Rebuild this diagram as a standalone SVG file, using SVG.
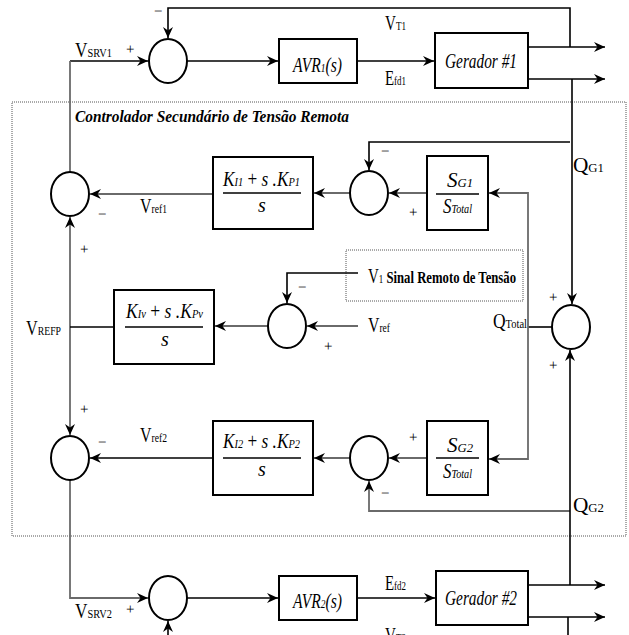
<svg xmlns="http://www.w3.org/2000/svg" width="629" height="635" viewBox="0 0 629 635">
<defs>
<marker id="ab" markerWidth="12" markerHeight="10" refX="11" refY="5" orient="auto" markerUnits="userSpaceOnUse"><path d="M0,0 L11,5 L0,10 L3.5,5 z" fill="#000"/></marker>
<marker id="ag" markerWidth="12" markerHeight="10" refX="11" refY="5" orient="auto" markerUnits="userSpaceOnUse"><path d="M0,0 L11,5 L0,10 L3.5,5 z" fill="#000"/></marker>
</defs>
<style>
.sum{fill:#fff;stroke:#000;stroke-width:2}
.box{fill:#fff;stroke:#000;stroke-width:2}
.k{fill:none;stroke:#000;stroke-width:1.6}
.g{fill:none;stroke:#6a6a6a;stroke-width:1.8}
.dot{fill:none;stroke:#555;stroke-width:1;stroke-dasharray:1,1}
text{font-family:"Liberation Serif","Times New Roman",serif;fill:#000}
.lb{font-size:20px}
.sb{font-size:12px}
.it{font-style:italic}
.sg{font-size:15px;fill:#000;text-rendering:geometricPrecision}
.fr{stroke:#000;stroke-width:1.4}
</style>
<rect class="dot" x="12" y="102" width="614" height="434"/>
<rect class="dot" x="346" y="250" width="177" height="51"/>
<g id="connectors">
<path class="k" d="M70,61 H148" marker-end="url(#ab)"/>
<path class="k" d="M187,61 H278" marker-end="url(#ab)"/>
<path class="k" d="M357,61 H434" marker-end="url(#ab)"/>
<path class="k" d="M528,47 H605" marker-end="url(#ab)"/>
<path class="k" d="M528,79 H605" marker-end="url(#ab)"/>
<path class="k" d="M570,47 V8 H168 V38" marker-end="url(#ab)"/>
<path class="k" d="M572,79 V304" marker-end="url(#ab)"/>
<path class="k" d="M570,142 H369 V170" marker-end="url(#ab)"/>
<path class="g" d="M70,61 V172"/>
<path class="g" d="M213,194 H90" marker-end="url(#ag)"/>
<path class="g" d="M350,193 H314" marker-end="url(#ag)"/>
<path class="g" d="M427,193 H389" marker-end="url(#ag)"/>
<path class="k" d="M552,327 H528"/>
<path class="g" d="M528,327 V193 H489" marker-end="url(#ag)"/>
<path class="g" d="M528,327 V459 H489" marker-end="url(#ag)"/>
<path class="g" d="M70,327 V217" marker-end="url(#ag)"/>
<path class="g" d="M70,327 V435" marker-end="url(#ag)"/>
<path class="k" d="M114,327 H70"/>
<path class="g" d="M268,326 H215" marker-end="url(#ag)"/>
<path class="g" d="M358,326 H307" marker-end="url(#ag)"/>
<path class="k" d="M358,273 H287 V303" marker-end="url(#ab)"/>
<path class="g" d="M427,458 H389" marker-end="url(#ag)"/>
<path class="g" d="M350,458 H314" marker-end="url(#ag)"/>
<path class="k" d="M213,458 H90" marker-end="url(#ab)"/>
<path class="g" d="M570,511 H369 V481" marker-end="url(#ag)"/>
<path class="k" d="M570,585 V350" marker-end="url(#ab)"/>
<path class="g" d="M70,480 V598 H148" marker-end="url(#ag)"/>
<path class="k" d="M187,598 H278" marker-end="url(#ab)"/>
<path class="k" d="M357,598 H435" marker-end="url(#ab)"/>
<path class="k" d="M528,585 H605" marker-end="url(#ab)"/>
<path class="k" d="M528,617 H605" marker-end="url(#ab)"/>
<path class="k" d="M568,617 V640"/>
<path class="k" d="M168,640 V621" marker-end="url(#ab)"/>
</g>
<g id="sum1"><ellipse class="sum" cx="168" cy="61" rx="19" ry="22"/></g>
<g id="avr1"><rect class="box" x="279" y="39" width="78" height="44"/>
<text class="lb it" x="293" y="72" textLength="49" lengthAdjust="spacingAndGlyphs">AVR<tspan class="sb">1</tspan>(s)</text></g>
<g id="gen1"><rect class="box" x="435" y="33" width="93" height="55"/>
<text class="lb it" x="445" y="68" textLength="72" lengthAdjust="spacingAndGlyphs">Gerador #1</text></g>
<g id="sum2"><ellipse class="sum" cx="70" cy="194" rx="19" ry="22"/></g>
<g id="ki1"><rect class="box" x="213" y="157" width="100" height="72"/>
<text class="lb it" x="223" y="186" textLength="77" lengthAdjust="spacingAndGlyphs">K<tspan class="sb">I1</tspan><tspan font-style="normal"> + </tspan> s .K<tspan class="sb">P1</tspan></text>
<line class="fr" x1="223" y1="193" x2="301" y2="193"/>
<text class="lb it" x="258" y="212">s</text></g>
<g id="sum3"><ellipse class="sum" cx="369" cy="193" rx="19" ry="22"/></g>
<g id="sg1"><rect class="box" x="427" y="156" width="61" height="74"/>
<text class="lb it" x="447" y="187" textLength="26" lengthAdjust="spacingAndGlyphs">S<tspan class="sb">G1</tspan></text>
<line class="fr" x1="436" y1="194" x2="479" y2="194"/>
<text class="lb it" x="443" y="213" textLength="29" lengthAdjust="spacingAndGlyphs">S<tspan class="sb">Total</tspan></text></g>
<g id="sumv"><ellipse class="sum" cx="287" cy="326" rx="19" ry="22"/></g>
<g id="kiv"><rect class="box" x="114" y="290" width="100" height="74"/>
<text class="lb it" x="126" y="318" textLength="77" lengthAdjust="spacingAndGlyphs">K<tspan class="sb">Iv</tspan><tspan font-style="normal"> + </tspan> s .K<tspan class="sb">Pv</tspan></text>
<line class="fr" x1="125" y1="327" x2="203" y2="327"/>
<text class="lb it" x="161" y="346">s</text></g>
<g id="sumq"><ellipse class="sum" cx="571" cy="327" rx="19" ry="22"/></g>
<g id="sum5"><ellipse class="sum" cx="70" cy="458" rx="19" ry="22"/></g>
<g id="ki2"><rect class="box" x="213" y="421" width="100" height="74"/>
<text class="lb it" x="223" y="448" textLength="77" lengthAdjust="spacingAndGlyphs">K<tspan class="sb">I2</tspan><tspan font-style="normal"> + </tspan> s .K<tspan class="sb">P2</tspan></text>
<line class="fr" x1="223" y1="458" x2="301" y2="458"/>
<text class="lb it" x="258" y="476">s</text></g>
<g id="sum4"><ellipse class="sum" cx="369" cy="458" rx="19" ry="22"/></g>
<g id="sg2"><rect class="box" x="427" y="421" width="61" height="74"/>
<text class="lb it" x="447" y="452" textLength="26" lengthAdjust="spacingAndGlyphs">S<tspan class="sb">G2</tspan></text>
<line class="fr" x1="436" y1="458" x2="479" y2="458"/>
<text class="lb it" x="443" y="478" textLength="29" lengthAdjust="spacingAndGlyphs">S<tspan class="sb">Total</tspan></text></g>
<g id="sum6"><ellipse class="sum" cx="168" cy="598" rx="19" ry="22"/></g>
<g id="avr2"><rect class="box" x="279" y="576" width="78" height="44"/>
<text class="lb it" x="293" y="608" textLength="49" lengthAdjust="spacingAndGlyphs">AVR<tspan class="sb">2</tspan>(s)</text></g>
<g id="gen2"><rect class="box" x="436" y="571" width="92" height="54"/>
<text class="lb it" x="445" y="605" textLength="72" lengthAdjust="spacingAndGlyphs">Gerador #2</text></g>
<g id="labels">
<text x="75" y="122" font-size="17" font-weight="bold" font-style="italic" textLength="274" lengthAdjust="spacingAndGlyphs">Controlador Secundário de Tensão Remota</text>
<text class="lb" x="75" y="57" textLength="37" lengthAdjust="spacingAndGlyphs">V<tspan class="sb">SRV1</tspan></text>
<text class="sg" x="126" y="54">+</text>
<text class="sg" x="154" y="16">−</text>
<text class="lb" x="385" y="30" textLength="21" lengthAdjust="spacingAndGlyphs">V<tspan class="sb">T1</tspan></text>
<text class="lb" x="385" y="85" textLength="21" lengthAdjust="spacingAndGlyphs">E<tspan class="sb">fd1</tspan></text>
<text class="lb" x="140" y="213" textLength="27" lengthAdjust="spacingAndGlyphs">V<tspan class="sb">ref1</tspan></text>
<text class="sg" x="98" y="219">−</text>
<text class="sg" x="80" y="254">+</text>
<text class="sg" x="381" y="156">−</text>
<text class="sg" x="409" y="217">+</text>
<text class="lb" x="573" y="172" textLength="31" lengthAdjust="spacingAndGlyphs">Q<tspan class="sb">G1</tspan></text>
<text x="368" y="283" font-size="17" textLength="148" lengthAdjust="spacingAndGlyphs"><tspan font-size="20">V</tspan><tspan font-size="12">1</tspan><tspan font-weight="bold"> Sinal Remoto de Tensão</tspan></text>
<text class="sg" x="298" y="292">−</text>
<text class="sg" x="324" y="351">+</text>
<text class="lb" x="368" y="332" textLength="22" lengthAdjust="spacingAndGlyphs">V<tspan class="sb">ref</tspan></text>
<text class="lb" x="26" y="335" textLength="35" lengthAdjust="spacingAndGlyphs">V<tspan class="sb">REFP</tspan></text>
<text class="lb" x="493" y="328" textLength="34" lengthAdjust="spacingAndGlyphs">Q<tspan class="sb">Total</tspan></text>
<text class="sg" x="549" y="302">+</text>
<text class="sg" x="549" y="370">+</text>
<text class="sg" x="80" y="414">+</text>
<text class="lb" x="140" y="442" textLength="27" lengthAdjust="spacingAndGlyphs">V<tspan class="sb">ref2</tspan></text>
<text class="sg" x="98" y="447">−</text>
<text class="sg" x="409" y="442">+</text>
<text class="sg" x="381" y="498">−</text>
<text class="lb" x="573" y="512" textLength="31" lengthAdjust="spacingAndGlyphs">Q<tspan class="sb">G2</tspan></text>
<text class="lb" x="75" y="618" textLength="37" lengthAdjust="spacingAndGlyphs">V<tspan class="sb">SRV2</tspan></text>
<text class="sg" x="126" y="614">+</text>
<text class="lb" x="385" y="590" textLength="21" lengthAdjust="spacingAndGlyphs">E<tspan class="sb">fd2</tspan></text>
<text class="lb" x="385" y="642" textLength="21" lengthAdjust="spacingAndGlyphs">V<tspan class="sb">T2</tspan></text>
</g>
</svg>
